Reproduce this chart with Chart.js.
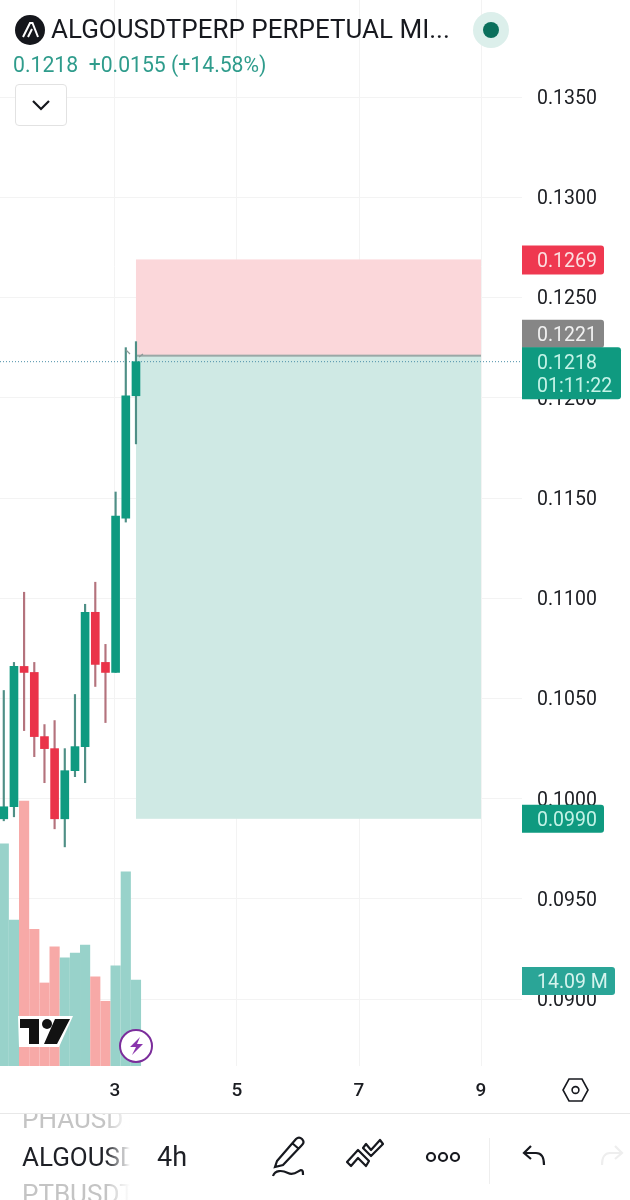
<!DOCTYPE html>
<html>
<head>
<meta charset="utf-8">
<title>ALGOUSDTPERP</title>
<script src="https://cdn.jsdelivr.net/npm/chart.js@4/dist/chart.umd.min.js"></script>
<style>
  html, body { margin: 0; padding: 0; background: #fff; }
  body { width: 630px; height: 1200px; position: relative; overflow: hidden; font-family: Roboto, sans-serif; }
  #wrap { position: absolute; left: 0; top: 0; width: 630px; height: 1112px; }
  .abs { position: absolute; white-space: nowrap; }
  #title { left: 51px; top: 14px; font-size: 26px; line-height: 30px; color: #17191f; }
  #quote { left: 13px; top: 53px; font-size: 21.2px; line-height: 24px; color: #2f9c8c; }
  #btn { left: 15px; top: 84px; width: 50px; height: 40px; border: 1px solid #e2e2e2; border-radius: 4px; background: #fff; }
  #footer { left: 0; top: 1113px; width: 630px; height: 87px; border-top: 1px solid #e8e8e8; background: #fff; overflow: hidden; }
  .sym { left: 22px; font-size: 26px; line-height: 28px; width: 108px; overflow: hidden; }
  .sym::after { content: ""; position: absolute; right: 0; top: 0; width: 24px; height: 100%; background: linear-gradient(to right, rgba(255,255,255,0), #fff); }
</style>
</head>
<body>
<div id="wrap"><canvas id="priceChart" width="630" height="1112"></canvas></div>

<svg class="abs" style="left:14px;top:14px" width="32" height="32" viewBox="0 0 32 32">
  <circle cx="16" cy="16" r="15" fill="#15171c"/>
  <path d="M9 23 L16 9 L18.5 9 L24 23 M14 23 L18 15" fill="none" stroke="#fff" stroke-width="2"/>
</svg>
<div class="abs" id="title">ALGOUSDTPERP PERPETUAL MI...</div>
<svg class="abs" style="left:472px;top:11px" width="38" height="38" viewBox="0 0 38 38">
  <circle cx="19" cy="19" r="18" fill="#dcefeb"/>
  <circle cx="19" cy="19" r="8" fill="#0b6f5c"/>
</svg>
<div class="abs" id="quote">0.1218&nbsp; +0.0155 (+14.58%)</div>
<div class="abs" id="btn">
  <svg style="position:absolute;left:15px;top:13px" width="20" height="14" viewBox="0 0 20 14">
    <path d="M2 3 L10 11 L18 3" fill="none" stroke="#15171c" stroke-width="2.2"/>
  </svg>
</div>

<!-- small handles of the position tool -->
<svg class="abs" style="left:124px;top:349px" width="24" height="10" viewBox="0 0 24 10">
  <path d="M2 1 L6 5 M19 5 L15 8" stroke="#8d9a98" stroke-width="1.2" fill="none"/>
</svg>

<!-- TradingView logo -->
<svg class="abs" style="left:17px;top:1015px" width="57" height="33" viewBox="0 0 57 33">
  <path d="M1 1 H56 L42 32 H2 Z" fill="#fff"/>
  <path d="M3 4 H22 V29 H12 V13 H3 Z M38 4 H53 L40 29 H27 Z" fill="#121212"/>
  <circle cx="30" cy="9" r="5" fill="#121212"/>
</svg>
<svg class="abs" style="left:118px;top:1028px" width="36" height="36" viewBox="0 0 36 36">
  <circle cx="18" cy="18" r="16" fill="#fff" stroke="#7b2d9b" stroke-width="2"/>
  <path d="M22 9 L12 19 H18 L14 27 L25 16 H19 Z" fill="#8a35ad"/>
</svg>
<svg class="abs" style="left:562px;top:1077px" width="27" height="26" viewBox="0 0 27 26">
  <path d="M7 2 H20 L26 13 L20 24 H7 L1 13 Z" fill="none" stroke="#17191f" stroke-width="1.6"/>
  <circle cx="13.5" cy="13" r="3.4" fill="none" stroke="#17191f" stroke-width="1.6"/>
</svg>

<div class="abs" id="footer">
  <div class="abs sym" style="top:-9px;color:#c4c4c4">PHAUSDT</div>
  <div class="abs sym" style="top:29px;color:#1e2026">ALGOUSDT</div>
  <div class="abs sym" style="top:66px;color:#c4c4c4">PTBUSDT</div>
  <div class="abs" style="left:157px;top:29px;font-size:27px;line-height:28px;color:#1e2026">4h</div>
  <svg class="abs" style="left:270px;top:20px" width="36" height="48" viewBox="0 0 36 48">
    <path d="M7 27 L26 5 C28 3 30 3 32 5 C34 7 34 9 32 11 L13 31 L5 33 Z M22 9 L29 15" fill="none" stroke="#17191f" stroke-width="2.2"/>
    <path d="M3 42 C5 36 12 36 18 39 C24 42 28 37 31 36 C33 36 33 38 33 41" fill="none" stroke="#17191f" stroke-width="2.2"/>
  </svg>
  <svg class="abs" style="left:344px;top:24px" width="42" height="32" viewBox="0 0 42 32">
    <path d="M3 24 L14 12 L25 23 L22 28 L14 20 L7 28 Z M19 10 L27 18 L39 6 L36 2 L27 12 L22 6 Z" fill="none" stroke="#17191f" stroke-width="2.2" stroke-linejoin="round"/>
  </svg>
  <svg class="abs" style="left:425px;top:36px" width="36" height="14" viewBox="0 0 36 14">
    <circle cx="6" cy="7" r="4" fill="none" stroke="#17191f" stroke-width="2.2"/>
    <circle cx="18" cy="7" r="4" fill="none" stroke="#17191f" stroke-width="2.2"/>
    <circle cx="30" cy="7" r="4" fill="none" stroke="#17191f" stroke-width="2.2"/>
  </svg>
  <div class="abs" style="left:489px;top:24px;width:1px;height:46px;background:#eeeeee"></div>
  <svg class="abs" style="left:521px;top:30px" width="26" height="24" viewBox="0 0 26 24">
    <path d="M10 2 L3 9 L10 15 M3 9 H15 C20 9 23 13 23 21" fill="none" stroke="#17191f" stroke-width="2.2"/>
  </svg>
  <svg class="abs" style="left:599px;top:30px" width="26" height="24" viewBox="0 0 26 24">
    <path d="M16 2 L23 9 L16 15 M23 9 H11 C6 9 3 13 3 21" fill="none" stroke="#eeeeee" stroke-width="2.2"/>
  </svg>
</div>

<script>
// candles, oldest first. x is the day of the month
const candleX = [1.177, 1.344, 1.510, 1.677, 1.844, 2.010, 2.177, 2.344, 2.510, 2.677, 2.844, 3.010, 3.177, 3.344];
const opens  = [0.0990, 0.0996, 0.1066, 0.1063, 0.1031, 0.1025, 0.0990, 0.1014, 0.1026, 0.1093, 0.1068, 0.1063, 0.1140, 0.1201];
const highs  = [0.1054, 0.1068, 0.1103, 0.1068, 0.1037, 0.1039, 0.1025, 0.1052, 0.1097, 0.1108, 0.1077, 0.1153, 0.1225, 0.1228];
const lows   = [0.0989, 0.0991, 0.1034, 0.1021, 0.1008, 0.0985, 0.0976, 0.1011, 0.1008, 0.1056, 0.1038, 0.1063, 0.1138, 0.1177];
const closes = [0.0996, 0.1066, 0.1063, 0.1031, 0.1025, 0.0990, 0.1014, 0.1026, 0.1093, 0.1067, 0.1063, 0.1141, 0.1201, 0.1218];
// volume in millions
const volumes = [36.4, 23.9, 43.4, 22.4, 13.6, 19.5, 17.7, 18.5, 19.8, 14.6, 10.6, 16.4, 31.8, 14.09];

const priceTicks = [0.0900, 0.0950, 0.1000, 0.1050, 0.1100, 0.1150, 0.1200, 0.1250, 0.1300, 0.1350];
const dayTicks = [3, 5, 7, 9];

// short position tool
const positionX = [3.344, 9];
const entryPrice = 0.1221;
const stopPrice = 0.1269;
const targetPrice = 0.0990;
const lastPrice = 0.1218;
const countdown = '01:11:22';
const lastVolume = '14.09 M';

const UP = '#0f9a80';
const DOWN = '#ea3349';
const UP_VOL = '#98d2ca';
const DOWN_VOL = '#f7a9a7';

const isUp = closes.map((c, i) => c >= opens[i]);

function rr(ctx, x, y, w, h, r) {
  ctx.beginPath();
  ctx.roundRect(x, y, w, h, r);
  ctx.fill();
}

function priceTag(ctx, top, w, h, bg, fg, lines) {
  ctx.fillStyle = bg;
  rr(ctx, 522, top, w, h, [0, 3, 3, 0]);
  ctx.fillStyle = fg;
  ctx.font = '19.5px Roboto';
  ctx.textAlign = 'left';
  ctx.textBaseline = 'middle';
  lines.forEach((t, i) => ctx.fillText(t, 537, top + 16.5 + i * 23));
}

const positionPlugin = {
  id: 'position',
  beforeDatasetsDraw(chart) {
    const { ctx, scales: { x, y } } = chart;
    const l = x.getPixelForValue(positionX[0]);
    const r = x.getPixelForValue(positionX[1]);
    const entry = y.getPixelForValue(entryPrice);
    const stop = y.getPixelForValue(stopPrice);
    const target = y.getPixelForValue(targetPrice);
    ctx.save();
    ctx.fillStyle = '#fbd7da';
    ctx.fillRect(l, stop, r - l, entry - stop);
    ctx.fillStyle = '#cfe9e4';
    ctx.fillRect(l, entry, r - l, target - entry);
    ctx.fillStyle = '#9aa8a6';
    ctx.fillRect(l, entry - 1, r - l, 2);
    // dotted line at the last price
    const last = y.getPixelForValue(lastPrice);
    ctx.strokeStyle = '#4a8fa8';
    ctx.lineWidth = 1;
    ctx.setLineDash([1, 2]);
    ctx.beginPath();
    ctx.moveTo(0, last);
    ctx.lineTo(522, last);
    ctx.stroke();
    ctx.restore();
  },
  afterDraw(chart) {
    const { ctx, scales: { y } } = chart;
    const last = y.getPixelForValue(lastPrice);
    ctx.save();
    priceTag(ctx, y.getPixelForValue(stopPrice) - 14, 82, 29, '#ef3850', '#fbdfe0', [stopPrice.toFixed(4)]);
    priceTag(ctx, last - 42, 82, 28, '#868686', '#f1f1f1', [entryPrice.toFixed(4)]);
    priceTag(ctx, last - 14.5, 99, 52, '#0f9a80', '#c4f3e7', [lastPrice.toFixed(4), countdown]);
    priceTag(ctx, y.getPixelForValue(targetPrice) - 14, 82, 28, '#0f9a80', '#c4f3e7', [targetPrice.toFixed(4)]);
    priceTag(ctx, 967, 93, 28, '#2aa597', '#d6f4ee', [lastVolume]);
    ctx.restore();
  }
};

new Chart(document.getElementById('priceChart').getContext('2d'), {
  data: {
    datasets: [
      {
        type: 'bar',
        yAxisID: 'vol',
        data: candleX.map((x, i) => ({ x, y: volumes[i] })),
        backgroundColor: isUp.map(u => (u ? UP_VOL : DOWN_VOL)),
        barThickness: 9.5,
        grouped: false,
        order: 3
      },
      {
        type: 'bar',
        yAxisID: 'y',
        data: candleX.map((x, i) => ({ x, y: [lows[i], highs[i]] })),
        backgroundColor: isUp.map(u => (u ? '#4f8f86' : '#b4737d')),
        barThickness: 1.5,
        grouped: false,
        order: 2
      },
      {
        type: 'bar',
        yAxisID: 'y',
        data: candleX.map((x, i) => ({ x, y: [opens[i], closes[i]] })),
        backgroundColor: isUp.map(u => (u ? UP : DOWN)),
        barThickness: 8,
        grouped: false,
        order: 1
      }
    ]
  },
  options: {
    responsive: false,
    animation: false,
    layout: { padding: 0 },
    plugins: { legend: { display: false }, tooltip: { enabled: false } },
    scales: {
      x: {
        type: 'linear',
        offset: false,
        min: 1.115,
        max: 9.672,
        afterBuildTicks: s => { s.ticks = dayTicks.map(value => ({ value })); },
        afterFit: s => { s.height = 46; s.paddingLeft = 0; s.paddingRight = 0; },
        grid: { color: '#f3f3f3', drawTicks: false, offset: false },
        border: { display: false },
        ticks: {
          color: '#1b1d22',
          font: { family: 'Roboto', size: 19, weight: '500' },
          padding: 14,
          maxRotation: 0,
          autoSkip: false,
          callback: v => String(v)
        }
      },
      y: {
        position: 'right',
        min: 0.08667,
        max: 0.13984,
        afterBuildTicks: s => { s.ticks = priceTicks.map(value => ({ value })); },
        afterFit: s => { s.width = 108; s.paddingTop = 0; s.paddingBottom = 0; },
        grid: { color: '#f3f3f3', drawTicks: false },
        border: { display: false },
        ticks: {
          color: '#1b1d22',
          // blank first line with a 4px line height nudges the label 2px down
          font: { family: 'Roboto', size: 19.5, lineHeight: '4px' },
          padding: 15,
          autoSkip: false,
          callback: v => ['', v.toFixed(4)]
        }
      },
      vol: {
        display: false,
        min: 0,
        max: 174.6
      }
    }
  },
  plugins: [positionPlugin]
});
</script>
</body>
</html>
